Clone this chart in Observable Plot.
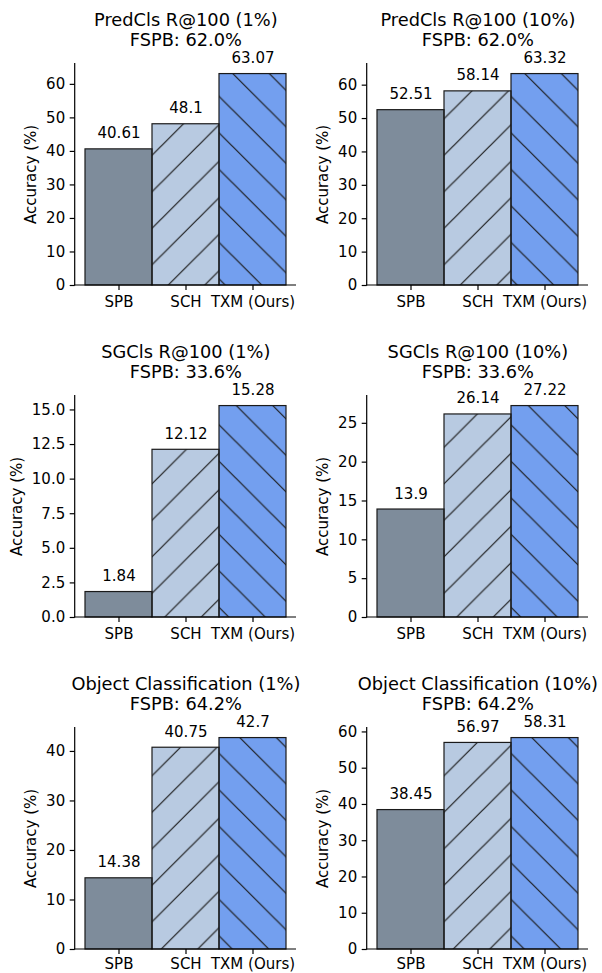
<!DOCTYPE html>
<html>
<head>
<meta charset="utf-8">
<script src="https://cdn.jsdelivr.net/npm/d3@7"></script>
<script src="https://cdn.jsdelivr.net/npm/@observablehq/plot@0.6"></script>
<style>
html, body { margin: 0; padding: 0; background: #fff; overflow: hidden; }
#root { position: relative; width: 602px; height: 973px; overflow: hidden; background: #fff; }
.panel { position: absolute; }
.panel svg { overflow: visible; display: block; }
</style>
</head>
<body>
<div id="root"></div>
<script>
// ---- data ----
const categories = ["SPB", "SCH", "TXM (Ours)"];
const panelTitles = [
  "PredCls R@100 (1%)", "PredCls R@100 (10%)",
  "SGCls R@100 (1%)", "SGCls R@100 (10%)",
  "Object Classification (1%)", "Object Classification (10%)"
];
const fspbLabels = [
  "FSPB: 62.0%", "FSPB: 62.0%",
  "FSPB: 33.6%", "FSPB: 33.6%",
  "FSPB: 64.2%", "FSPB: 64.2%"
];
const spbValues = [40.61, 52.51, 1.84, 13.9, 14.38, 38.45];
const schValues = [48.1, 58.14, 12.12, 26.14, 40.75, 56.97];
const txmValues = [63.07, 63.32, 15.28, 27.22, 42.7, 58.31];
const yTicks = [
  [0, 10, 20, 30, 40, 50, 60],
  [0, 10, 20, 30, 40, 50, 60],
  [0, 2.5, 5, 7.5, 10, 12.5, 15],
  [0, 5, 10, 15, 20, 25],
  [0, 10, 20, 30, 40],
  [0, 10, 20, 30, 40, 50, 60]
];
const yTickFormats = ["d", "d", ".1f", "d", "d", "d"];
const yLabel = "Accuracy (%)";

// ---- styles ----
const baseColors = {"SPB": "#708090", "SCH": "#B0C4DE", "TXM (Ours)": "#6495ED"};
const hatchKinds = {"SPB": null, "SCH": "fwd", "TXM (Ours)": "bwd"};
const edge = "#1a1a1a";
const FONT = "DejaVu Sans";
const P = 36.5;          // hatch period (px)
const PHASE_FWD = 15.3;  // page-anchored phase of '/' lines
const PHASE_BWD = 13.2;  // page-anchored phase of '\' lines

const colStep = 292, rowStep = 332;
const W = 310, H = 332;
const mL = 74.7, mR = 14, mT = 63, mB = 47;

const measureCtx = document.createElement("canvas").getContext("2d");
measureCtx.font = `15px "${FONT}"`;

const root = document.getElementById("root");

for (let i = 0; i < 6; i++) {
  const c = i % 2, r = Math.floor(i / 2);
  const ox = c * colStep, oy = r * rowStep;
  const vals = [spbValues[i], schValues[i], txmValues[i]];
  const data = categories.map((cat, j) => ({cat, value: vals[j]}));
  const ymax = d3.max(vals) * 1.05;
  const fmt = d3.format(yTickFormats[i]);
  const maxTickW = d3.max(yTicks[i], t => measureCtx.measureText(fmt(t)).width);
  const labelOffset = 5 + 5 + maxTickW + 5.8 + 8.7;
  const xPad = r === 2 ? 4 : 6;

  const mod = v => ((v % P) + P) % P;
  const defsMark = () => {
    const defs = d3.create("svg:defs");
    const pf = defs.append("pattern")
      .attr("id", `hatch-fwd-${i}`)
      .attr("patternUnits", "userSpaceOnUse")
      .attr("width", P).attr("height", P)
      .attr("x", mod(PHASE_FWD - ox - oy)).attr("y", 0);
    pf.append("path")
      .attr("d", `M${-P/2},${P/2}L${P/2},${-P/2}M0,${P}L${P},0M${P/2},${1.5*P}L${1.5*P},${P/2}`)
      .attr("stroke", edge).attr("stroke-width", 1.2).attr("fill", "none");
    const pb = defs.append("pattern")
      .attr("id", `hatch-bwd-${i}`)
      .attr("patternUnits", "userSpaceOnUse")
      .attr("width", P).attr("height", P)
      .attr("x", mod(PHASE_BWD - ox + oy)).attr("y", 0);
    pb.append("path")
      .attr("d", `M0,0L${P},${P}M${-P/2},${P/2}L${P/2},${1.5*P}M${P/2},${-P/2}L${1.5*P},${P/2}`)
      .attr("stroke", edge).attr("stroke-width", 1.2).attr("fill", "none");
    return defs.node();
  };

  const spines = (index, scales, values, dims) => {
    const g = d3.create("svg:g").attr("stroke", "#000").attr("stroke-width", 1.2).attr("fill", "none");
    const x0 = dims.marginLeft, x1 = dims.width - dims.marginRight;
    const y0 = dims.marginTop, y1 = dims.height - dims.marginBottom;
    g.append("line").attr("x1", x0).attr("x2", x0).attr("y1", y0).attr("y2", y1 + 0.6);
    g.append("line").attr("x1", x0 - 0.6).attr("x2", x1).attr("y1", y1).attr("y2", y1);
    return g.node();
  };

  const chart = Plot.plot({
    width: W, height: H,
    marginLeft: mL, marginRight: mR, marginTop: mT, marginBottom: mB,
    style: {fontFamily: FONT, fontSize: "15px", color: "#000", background: "transparent", overflow: "visible"},
    x: {domain: categories, paddingInner: 0, paddingOuter: 0.15, align: 0.5, label: null},
    y: {domain: [0, ymax], label: null},
    color: {type: "identity"},
    marks: [
      defsMark,
      Plot.barY(data, {x: "cat", y: "value", fill: d => baseColors[d.cat], fillOpacity: 0.9}),
      Plot.barY(data, {
        x: "cat", y: "value",
        fill: d => hatchKinds[d.cat] ? `url(#hatch-${hatchKinds[d.cat]}-${i})` : "none",
        stroke: edge, strokeWidth: 1.2
      }),
      Plot.text(data, {x: "cat", y: "value", text: d => String(d.value), dy: -11, lineAnchor: "bottom", fontSize: 15, fill: "#000"}),
      Plot.axisX({tickSize: 5, tickPadding: xPad, fontSize: 15, stroke: "#000", strokeWidth: 1.2, label: null}),
      Plot.axisY({ticks: yTicks[i], tickFormat: fmt, tickSize: 5, tickPadding: 5, fontSize: 15, stroke: "#000", strokeWidth: 1.2, label: null}),
      spines,
      Plot.text([yLabel], {frameAnchor: "left", rotate: -90, dx: -labelOffset, textAnchor: "middle", lineAnchor: "middle", fontSize: 15, fill: "#000"}),
      Plot.text([panelTitles[i] + "\n" + fspbLabels[i]], {frameAnchor: "top", dy: -17.5, lineAnchor: "bottom", lineHeight: 20 / 17.8, fontSize: 17.8, fill: "#000"})
    ]
  });

  const div = document.createElement("div");
  div.className = "panel";
  div.style.left = ox + "px";
  div.style.top = oy + "px";
  div.appendChild(chart);
  root.appendChild(div);
}
</script>
</body>
</html>
